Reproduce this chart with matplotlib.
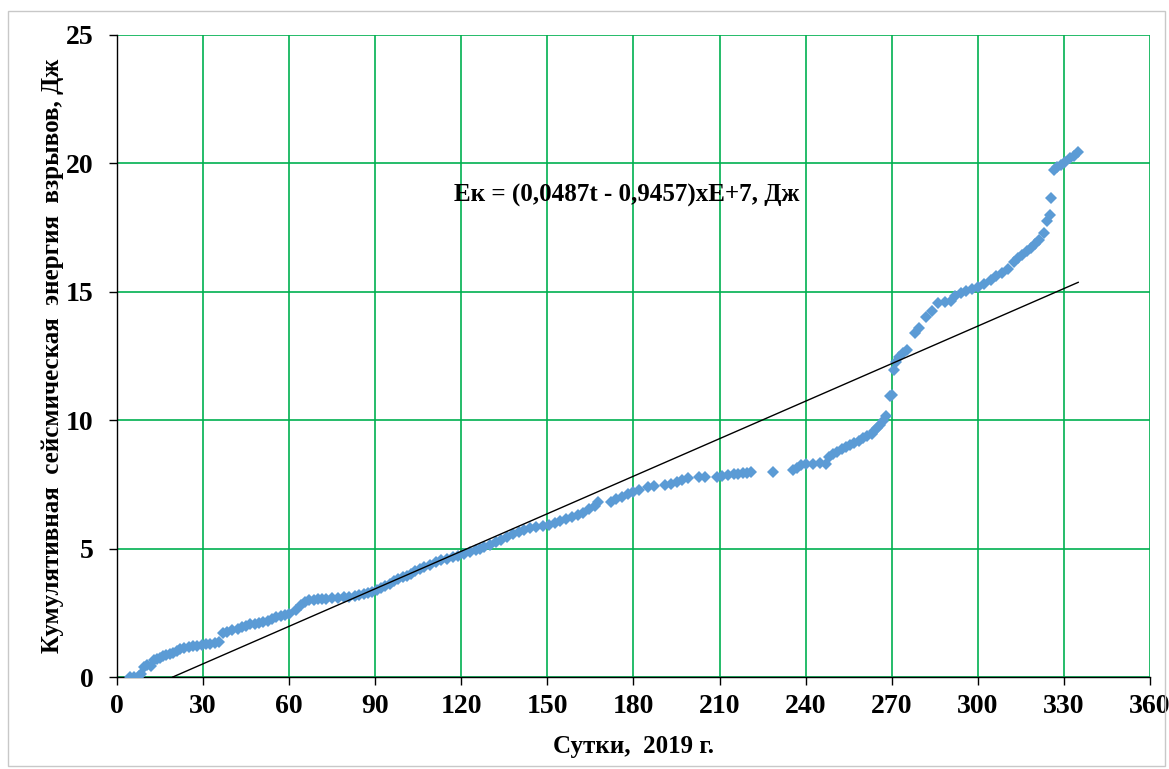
import numpy as np
import matplotlib.pyplot as plt
from matplotlib.patches import Rectangle

# days of 2019 and cumulative energy (x1e7 J)
t_days = [4.5, 6, 7.5, 8.5, 9.5, 10.5, 12, 13, 14, 15,
          16, 17, 18.5, 19.5, 21, 22, 23.5, 25, 26.5, 28,
          29.5, 31, 32.5, 34, 35.5, 37, 38.5, 40, 42, 43.5,
          45, 46.5, 48, 49.5, 51, 52.5, 54, 55.5, 57, 58.5,
          60, 62.5, 64, 65.5, 67, 68.5, 70, 71.5, 73, 75,
          77, 79, 81, 83, 84.5, 86, 87.5, 89, 90.5, 92,
          93.5, 95, 96.5, 98, 99.5, 101, 102.5, 104, 105.5, 107,
          109, 111, 113, 115, 117, 119, 121, 123, 125, 126.5,
          128, 130, 132, 134, 136, 138, 140, 142, 144, 146,
          148.5, 150.5, 152.5, 154.5, 156.5, 158.5, 160.5, 162.5, 164.5, 166.5,
          167.5, 172, 174, 176, 178, 180, 182, 185, 187, 191,
          193, 195, 197, 199, 203, 205, 209, 211, 213, 215,
          216.5, 218, 219.5, 221, 228.5, 235.5, 237, 238.5, 240, 242.5,
          245, 247, 248, 249.5, 251, 252.5, 254, 255.5, 257, 258.5,
          260, 261.5, 263, 264, 265, 266, 267, 268, 269.3, 270.2,
          270.7, 271.5, 272.5, 274, 275.5, 278, 279.5, 282, 284, 286,
          288.5, 290.5, 292, 294, 296, 298, 300, 302, 304.5, 306.5,
          308.5, 310.5, 312.5, 314, 315.5, 317, 318.5, 320, 321.5, 323,
          324.2, 325, 325.5, 326.5, 327.5, 329, 330.5, 332, 333.5, 334.8]
e_cum = [0.0, 0.02, 0.05, 0.1, 0.4, 0.45, 0.42, 0.65, 0.7, 0.75,
         0.8, 0.85, 0.9, 0.95, 1.0, 1.08, 1.12, 1.17, 1.2, 1.22,
         1.25, 1.27, 1.3, 1.33, 1.38, 1.7, 1.77, 1.82, 1.88, 1.93,
         2.0, 2.05, 2.08, 2.12, 2.15, 2.2, 2.26, 2.32, 2.38, 2.42,
         2.47, 2.6, 2.8, 2.92, 2.98, 3.0, 3.02, 3.03, 3.04, 3.06,
         3.08, 3.1, 3.12, 3.15, 3.18, 3.22, 3.27, 3.32, 3.4, 3.48,
         3.56, 3.64, 3.72, 3.8, 3.88, 3.95, 4.0, 4.12, 4.2, 4.3,
         4.38, 4.46, 4.55, 4.6, 4.66, 4.73, 4.8, 4.87, 4.93, 5.0,
         5.07, 5.15, 5.25, 5.35, 5.45, 5.55, 5.65, 5.72, 5.8, 5.85,
         5.88, 5.92, 6.0, 6.08, 6.15, 6.22, 6.3, 6.4, 6.55, 6.65,
         6.8, 6.82, 6.92, 7.02, 7.12, 7.22, 7.3, 7.4, 7.45, 7.48,
         7.52, 7.6, 7.68, 7.75, 7.78, 7.8, 7.8, 7.84, 7.87, 7.9,
         7.92, 7.94, 7.96, 7.97, 8.0, 8.05, 8.15, 8.25, 8.3, 8.3,
         8.32, 8.3, 8.55, 8.68, 8.78, 8.88, 8.95, 9.02, 9.1, 9.18,
         9.3, 9.38, 9.48, 9.58, 9.7, 9.8, 9.95, 10.15, 10.95, 11.0,
         11.95, 12.25, 12.45, 12.6, 12.75, 13.4, 13.6, 14.0, 14.25, 14.55,
         14.6, 14.65, 14.85, 14.95, 15.05, 15.1, 15.2, 15.3, 15.45, 15.6,
         15.75, 15.9, 16.15, 16.3, 16.45, 16.6, 16.7, 16.85, 17.0, 17.3,
         17.75, 18.0, 18.65, 19.75, 19.85, 19.95, 20.05, 20.2, 20.3, 20.45]

# trend from the equation on the chart
slope = 0.0487
intercept = -0.9457
t_trend = np.array([-intercept / slope, 335])
e_trend = slope * t_trend + intercept

plt.rcParams['font.family'] = ['Liberation Serif', 'DejaVu Serif']
plt.rcParams['font.weight'] = 'bold'

fig = plt.figure(figsize=(11.69, 7.69), dpi=100)
ax = fig.add_axes([0.1001, 0.1196, 0.8836, 0.8349])

fig.patches.append(Rectangle((0.007, 0.004), 0.99, 0.982, transform=fig.transFigure,
                             fill=False, edgecolor='#c8c8c8', linewidth=1))

ax.plot(t_days, e_cum, 'D', color='#5b9bd5', markersize=6.5, markeredgewidth=0, zorder=3)
ax.plot(t_trend, e_trend, color='black', linewidth=1, zorder=4)

ax.set_xlim(0, 360)
ax.set_ylim(0, 25)
ax.set_xticks(np.arange(0, 361, 30))
ax.set_yticks(np.arange(0, 26, 5))
ax.grid(color='#00b050', linewidth=1.2)
ax.set_axisbelow(True)
for s in ['top', 'right']:
    ax.spines[s].set_visible(False)
for s in ['left', 'bottom']:
    ax.spines[s].set_color('black')
    ax.spines[s].set_linewidth(1)
ax.tick_params(direction='out', length=6, width=1, labelsize=20)
ax.tick_params(axis='x', pad=6)
ax.tick_params(axis='y', pad=11)
for lbl in ax.get_xticklabels() + ax.get_yticklabels():
    lbl.set_fontweight('bold')

ax.set_xlabel('Сутки,  2019 г.', fontsize=18, fontweight='bold', labelpad=12)
ax.set_ylabel('Кумулятивная  сейсмическая  энергия  взрывов, Дж', fontsize=18,
              fontweight='bold', labelpad=1)
ax.text(177.5, 18.77, 'Eк = (0,0487t - 0,9457)xE+7, Дж', fontsize=18, fontweight='bold',
        ha='center', va='center')

plt.savefig('out.png', dpi=100)
